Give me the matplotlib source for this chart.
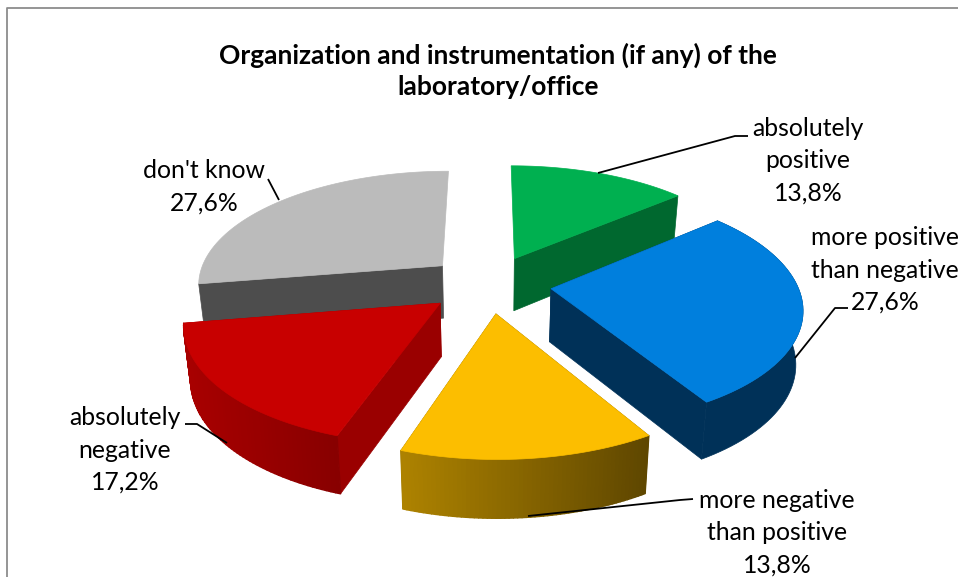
import numpy as np
import matplotlib
matplotlib.use("Agg")
import matplotlib.pyplot as plt
from matplotlib.collections import PolyCollection
from matplotlib.colors import to_rgb

categories = ["absolutely\npositive", "more positive\nthan negative", "more negative\nthan positive",
              "absolutely\nnegative", "don't know"]
values = [13.8, 27.6, 13.8, 17.2, 27.6]
top_colors = ["#00B050", "#007FDD", "#FCBE00", "#C80000", "#BBBBBB"]
cut_colors = ["#00682F", "#003158", "#7A5C00", "#9A0000", "#4D4D4D"]
rim_left = ["#00682F", "#003158", "#AD8200", "#A80000", "#4D4D4D"]
rim_right = ["#00682F", "#003158", "#5F4700", "#880000", "#4D4D4D"]
start_cut_shown = [False, True, True, True, True]
end_cut_shown = [True, True, True, True, False]
rim_shown = [False, True, True, True, False]
title = "Organization and instrumentation (if any) of the\nlaboratory/office"
label_xy = [(808, 161), (885, 270), (777, 533), (125, 450), (204, 187)]
leaders = [[(598, 173), (735, 136), (748, 136)],
           [(795, 358), (835, 308), (848, 308)],
           [(528, 516), (680, 500), (693, 499)],
           [(227, 443), (197, 424), (185, 424)],
           [(279, 200), (268, 179)]]

CX, CY, R, Q, P, EXPLODE, DEPTH, TAPER = 489, 284, 246, 0.4625, 0.15, 0.254, 53, 0.977
FONT = "Lato"


def project(X, Y, bottom=False):
    s = 1.0 / (1.0 + P * Y)
    x = R * X * s
    y = CY - R * Q * Y * s
    if bottom:
        x *= TAPER
        y = y + DEPTH * np.sqrt(s)
    return np.column_stack([CX + x, y])


def pie_angles(vals):
    edges = np.cumsum([0.0] + list(vals)) / sum(vals) * 2 * np.pi
    return edges[:-1], edges[1:]


fig = plt.figure(figsize=(9.58, 5.77), dpi=100)
ax = fig.add_axes([0, 0, 1, 1])
ax.set_xlim(0, 958)
ax.set_ylim(577, 0)
ax.axis("off")

ax.plot([7.5, 7.5, 958], [577, 7.5, 7.5], color="#8C8C8C", lw=1.3, solid_capstyle="butt", zorder=0)

starts, ends = pie_angles(values)
for order, i in enumerate([4, 0, 3, 1, 2]):
    z = order + 1
    a0, a1 = starts[i], ends[i]
    mid = (a0 + a1) / 2
    ox, oy = EXPLODE * np.sin(mid), EXPLODE * np.cos(mid)
    t = np.linspace(a0, a1, 60)
    X, Y = ox + np.sin(t), oy + np.cos(t)
    top = project(X, Y)
    bot = project(X, Y, True)
    apex_t = project(np.array([ox]), np.array([oy]))
    apex_b = project(np.array([ox]), np.array([oy]), True)
    for k, shown in ((0, start_cut_shown[i]), (-1, end_cut_shown[i])):
        if not shown:
            continue
        quad = np.vstack([apex_t, top[k], bot[k], apex_b])
        ax.fill(quad[:, 0], quad[:, 1], color=cut_colors[i], lw=0.5, zorder=z)
    if rim_shown[i]:
        if rim_left[i] == rim_right[i]:
            rim = np.vstack([top, bot[::-1]])
            ax.fill(rim[:, 0], rim[:, 1], color=rim_left[i], lw=0.5, zorder=z)
        else:
            quads = [np.vstack([top[j], top[j + 1], bot[j + 1], bot[j]]) for j in range(len(t) - 1)]
            xm = (top[:-1, 0] + top[1:, 0]) / 2
            f = (xm - xm.min()) / max(xm.max() - xm.min(), 1)
            cl, cr = np.array(to_rgb(rim_left[i])), np.array(to_rgb(rim_right[i]))
            cols = [tuple(cl + (cr - cl) * v) for v in f]
            ax.add_collection(PolyCollection(quads, facecolors=cols, edgecolors=cols, linewidths=1.0, zorder=z))
    poly = np.vstack([apex_t, top])
    ax.fill(poly[:, 0], poly[:, 1], color=top_colors[i], lw=0.5, zorder=z)

for pts in leaders:
    xs, ys = zip(*pts)
    ax.plot(xs, ys, color="black", lw=1.3, zorder=10, solid_capstyle="butt")

for c, v, (x, y) in zip(categories, values, label_xy):
    txt = c + "\n" + f"{v:.1f}".replace(".", ",") + "%"
    ax.text(x, y, txt, ha="center", va="center", fontsize=17.8, family=FONT, color="black",
            linespacing=1.5, zorder=11)

ax.text(498, 71, title, ha="center", va="center", fontsize=19, family=FONT, fontweight="bold",
        color="black", linespacing=1.33, zorder=11)

fig.savefig("out.png", dpi=100)
